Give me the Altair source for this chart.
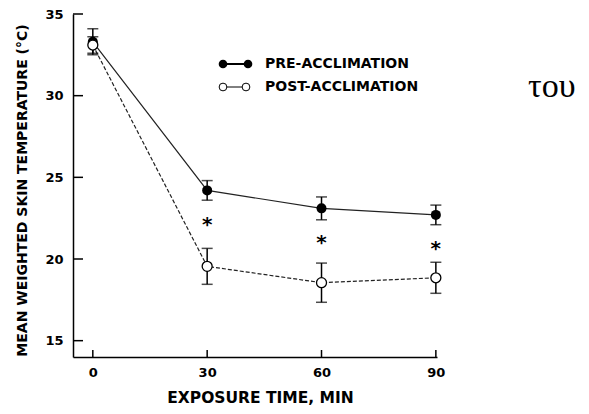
import altair as alt
import pandas as pd

# ---- data ----
times = [0, 30, 60, 90]
pre_mean = [33.3, 24.2, 23.1, 22.7]
pre_err = [0.8, 0.6, 0.7, 0.6]
post_mean = [33.1, 19.55, 18.55, 18.85]
post_err = [0.5, 1.1, 1.2, 0.95]
star_times = [30, 60, 90]
star_vals = [22.3, 21.2, 20.85]
x_ticks = [0, 30, 60, 90]
y_ticks = [15, 20, 25, 30, 35]
series_names = ["PRE-ACCLIMATION", "POST-ACCLIMATION"]
side_text = "του"

pre = pd.DataFrame({"time": times, "mean": pre_mean, "err": pre_err})
post = pd.DataFrame({"time": times, "mean": post_mean, "err": post_err})
for d in (pre, post):
    d["lo"] = d["mean"] - d["err"]
    d["hi"] = d["mean"] + d["err"]
stars = pd.DataFrame({"time": star_times, "mean": star_vals})
xt = pd.DataFrame({"time": x_ticks})
yt = pd.DataFrame({"mean": y_ticks})

FONT = "DejaVu Sans"
xscale = alt.Scale(domain=[-5.2, 90.3], nice=False, zero=False)
yscale = alt.Scale(domain=[14, 35], nice=False, zero=False)

xaxis = alt.Axis(values=x_ticks, ticks=False, grid=False, domainColor="black",
                 domainWidth=1.5, labelFont=FONT, labelFontWeight="bold",
                 labelFontSize=13, labelColor="black", labelPadding=9,
                 labelFlush=False, title="EXPOSURE TIME, MIN", titleFont=FONT,
                 titleFontWeight="bold", titleFontSize=15.5, titleColor="black",
                 titleX=187, titleY=45, titleBaseline="alphabetic", titleAlign="center")
yaxis = alt.Axis(values=y_ticks, ticks=False, grid=False, domainColor="black",
                 domainWidth=1.5, labelFont=FONT, labelFontWeight="bold",
                 labelFontSize=13, labelColor="black", labelPadding=10,
                 title="MEAN WEIGHTED SKIN TEMPERATURE (°C)", titleFont=FONT,
                 titleFontWeight="bold", titleFontSize=14, titleColor="black",
                 titleAngle=270, titleX=-51, titleY=176, titleAlign="center",
                 titleBaseline="middle")

def X(f="time"):
    return alt.X(f"{f}:Q", scale=xscale, axis=xaxis, title="EXPOSURE TIME, MIN")

def Y(f="mean"):
    return alt.Y(f"{f}:Q", scale=yscale, axis=yaxis,
                 title="MEAN WEIGHTED SKIN TEMPERATURE (°C)")

pre_line = alt.Chart(pre).mark_line(color="#222", strokeWidth=1.2).encode(x=X(), y=Y())
post_line = alt.Chart(post).mark_line(color="#222", strokeWidth=1.2,
                                      strokeDash=[4, 2]).encode(x=X(), y=Y())

def errbars(df):
    r = alt.Chart(df).mark_rule(color="black", strokeWidth=1.5).encode(
        x=X(), y=Y("lo"), y2="hi:Q")
    t1 = alt.Chart(df).mark_tick(color="black", orient="horizontal", size=11,
                                 thickness=1.5).encode(x=X(), y=Y("lo"))
    t2 = alt.Chart(df).mark_tick(color="black", orient="horizontal", size=11,
                                 thickness=1.5).encode(x=X(), y=Y("hi"))
    return r + t1 + t2

pre_pts = alt.Chart(pre).mark_point(shape="circle", filled=True, color="black",
                                    size=100, opacity=1).encode(x=X(), y=Y())
post_pts = alt.Chart(post).mark_point(shape="circle", filled=True, fill="white",
                                      stroke="black", strokeWidth=1.3, size=100,
                                      opacity=1).encode(x=X(), y=Y())

star_layer = alt.Chart(stars).mark_text(text="*", font=FONT, fontWeight="bold",
                                        fontSize=20, color="black",
                                        baseline="middle", dy=4).encode(x=X(), y=Y())

ytick_layer = alt.Chart(yt).mark_rule(color="black", strokeWidth=1.5).encode(
    y=Y(), x=alt.value(0), x2=alt.value(10))
xtick_layer = alt.Chart(xt).mark_rule(color="black", strokeWidth=1.5).encode(
    x=X(), y=alt.value(343), y2=alt.value(336))

# manual legend
leg_pre_line = alt.Chart(pre.head(1)).mark_rule(color="black", strokeWidth=2).encode(
    x=alt.value(150), x2=alt.value(175), y=alt.value(50))
leg_pre_pts = alt.Chart(pd.DataFrame({"px": [150, 175]})).mark_point(
    shape="circle", filled=True, color="black", size=75, opacity=1).encode(
    x=alt.X("px:Q", scale=None, axis=None), y=alt.value(50))
leg_post_line = alt.Chart(pre.head(1)).mark_rule(color="black", strokeWidth=1).encode(
    x=alt.value(150), x2=alt.value(173), y=alt.value(73))
leg_post_pts = alt.Chart(pd.DataFrame({"px": [150, 173]})).mark_point(
    shape="circle", filled=True, fill="white", stroke="black", strokeWidth=1,
    size=60, opacity=1).encode(x=alt.X("px:Q", scale=None, axis=None),
                               y=alt.value(73))
leg_text = alt.Chart(pd.DataFrame({"name": series_names, "py": [50, 73]})).mark_text(
    font=FONT, fontWeight="bold", fontSize=14, color="black", align="left",
    baseline="middle").encode(x=alt.value(192),
                              y=alt.Y("py:Q", scale=None, axis=None),
                              text="name:N")

side = alt.Chart(pd.DataFrame({"s": [side_text]})).mark_text(
    font="Liberation Serif", fontSize=34, color="black", align="left",
    baseline="alphabetic").encode(x=alt.value(455), y=alt.value(83), text="s:N")

chart = alt.layer(
    pre_line, post_line, errbars(pre), errbars(post), pre_pts, post_pts,
    star_layer, ytick_layer, xtick_layer,
    leg_pre_line, leg_pre_pts, leg_post_line, leg_post_pts, leg_text, side,
).properties(
    width=364, height=343,
    autosize=alt.AutoSizeParams(type="none"),
    padding={"left": 65, "top": 6, "right": 144, "bottom": 49},
    background="white",
).configure_view(stroke=None)

chart.save("out.html", embed_options={"renderer": "svg", "actions": False})
